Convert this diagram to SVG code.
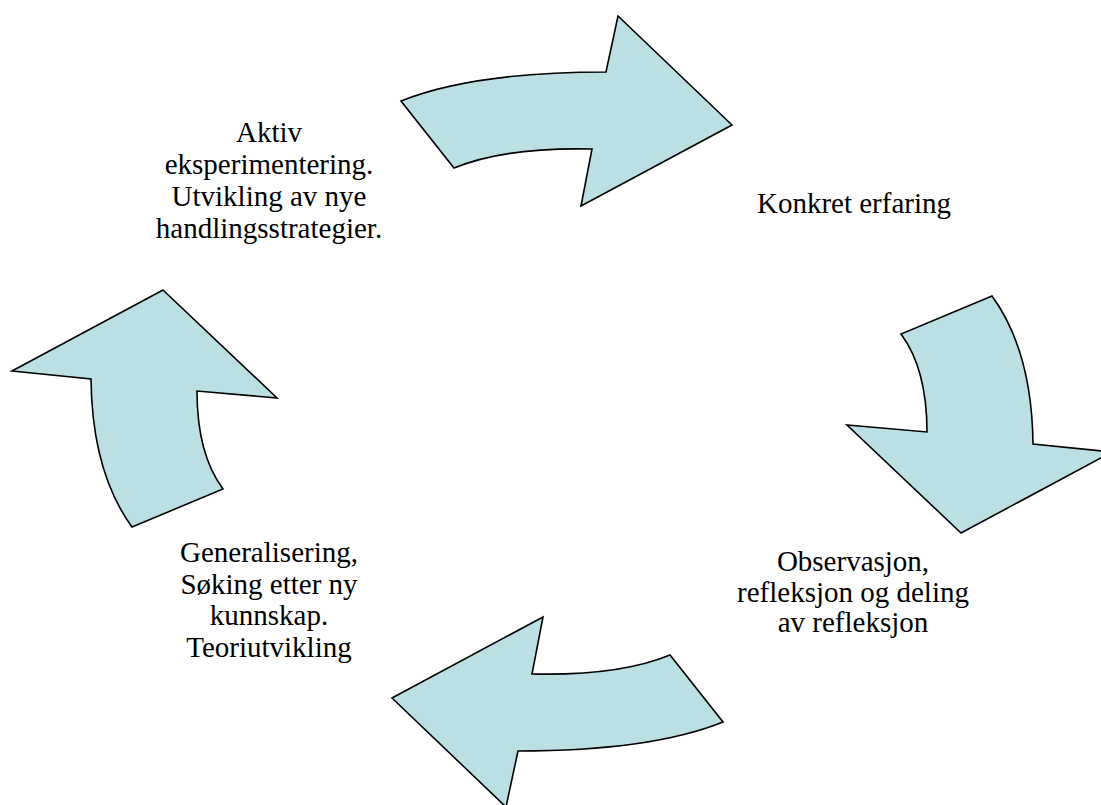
<svg xmlns="http://www.w3.org/2000/svg" width="1101" height="805" viewBox="0 0 1101 805">
<defs>
<style>
.arrow{fill:#BBE0E3;stroke:#000;stroke-width:1.6;stroke-linejoin:miter}
.lbl{font-family:"Liberation Serif","Times New Roman",serif;font-size:29px;fill:#000;text-anchor:middle}
</style>
<path id="arrowH" d="M401,101 Q473,72 606,72 L618,16 L732,125 L581,206 L592,149 Q505,147 454,168 Z"/>
<path id="arrowV" d="M163,290 L277,398 L197,391 Q197,454 223,489 L132,527 Q92,472 91,379 L12,371 Z"/>
</defs>
<rect width="1101" height="805" fill="#fff"/>
<g id="connectors">
<use href="#arrowH" class="arrow"/>
<use href="#arrowV" class="arrow" transform="rotate(180 562 411.5)"/>
<use href="#arrowH" class="arrow" transform="rotate(180 562 411.5)"/>
<use href="#arrowV" class="arrow"/>
</g>
<g id="node-aktiv">
<text class="lbl" x="269" y="142">Aktiv</text>
<text class="lbl" x="269" y="174">eksperimentering.</text>
<text class="lbl" x="269" y="206">Utvikling av nye</text>
<text class="lbl" x="269" y="238">handlingsstrategier.</text>
</g>
<g id="node-konkret">
<text class="lbl" x="854" y="213">Konkret erfaring</text>
</g>
<g id="node-observasjon">
<text class="lbl" x="853" y="571">Observasjon,</text>
<text class="lbl" x="853" y="602">refleksjon og deling</text>
<text class="lbl" x="853" y="632">av refleksjon</text>
</g>
<g id="node-generalisering">
<text class="lbl" x="269" y="562">Generalisering,</text>
<text class="lbl" x="269" y="594">Søking etter ny</text>
<text class="lbl" x="269" y="625">kunnskap.</text>
<text class="lbl" x="269" y="657">Teoriutvikling</text>
</g>
</svg>
